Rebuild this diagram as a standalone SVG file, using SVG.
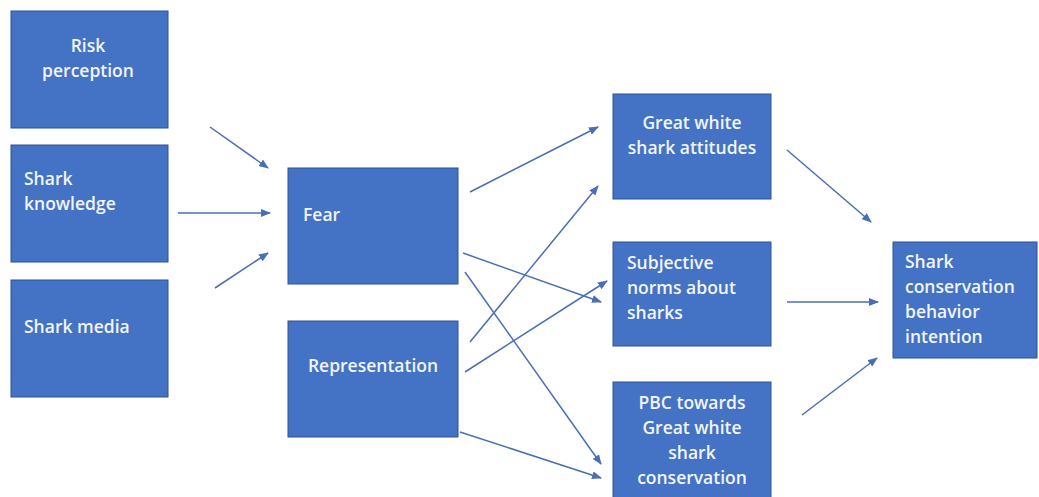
<svg xmlns="http://www.w3.org/2000/svg" width="1039" height="497" viewBox="0 0 1039 497">
<defs>
<marker id="ah" markerWidth="10" markerHeight="8" refX="9" refY="4" orient="auto" markerUnits="userSpaceOnUse">
<path d="M0,0 L10,4 L0,8 Z" fill="#4A6DB8"/>
</marker>
<style>
.box{fill:#4472C4;stroke:#2F528F;stroke-width:1}
.t{font-family:"Open Sans","Liberation Sans",sans-serif;font-size:17.5px;font-weight:600;fill:#F2F5FB}
.c{text-anchor:middle}
.e{stroke:#4A6DB8;stroke-width:1.5;fill:none;marker-end:url(#ah)}
</style>
</defs>
<rect width="1039" height="497" fill="#FFFFFF"/>
<g id="risk"><rect class="box" x="11" y="11" width="157" height="117"/><text class="t c" x="88" y="52">Risk</text><text class="t c" x="88" y="77">perception</text></g>
<g id="knowledge"><rect class="box" x="11" y="145" width="157" height="117"/><text class="t" x="24" y="185">Shark</text><text class="t" x="24" y="210">knowledge</text></g>
<g id="media"><rect class="box" x="11" y="280" width="157" height="117"/><text class="t" x="24" y="333">Shark media</text></g>
<g id="fear"><rect class="box" x="288" y="168" width="170" height="116"/><text class="t" x="303" y="221">Fear</text></g>
<g id="representation"><rect class="box" x="288" y="321" width="170" height="116"/><text class="t c" x="373" y="372">Representation</text></g>
<g id="attitudes"><rect class="box" x="613" y="94" width="158" height="105"/><text class="t c" x="692" y="129">Great white</text><text class="t c" x="692" y="154">shark attitudes</text></g>
<g id="norms"><rect class="box" x="613" y="242" width="158" height="104"/><text class="t" x="627" y="269">Subjective</text><text class="t" x="627" y="294">norms about</text><text class="t" x="627" y="319">sharks</text></g>
<g id="pbc"><rect class="box" x="613" y="382" width="158" height="120"/><text class="t c" x="692" y="409">PBC towards</text><text class="t c" x="692" y="434">Great white</text><text class="t c" x="692" y="459">shark</text><text class="t c" x="692" y="484">conservation</text></g>
<g id="intention"><rect class="box" x="893" y="242" width="144" height="116"/><text class="t" x="905" y="268">Shark</text><text class="t" x="905" y="293">conservation</text><text class="t" x="905" y="318">behavior</text><text class="t" x="905" y="343">intention</text></g>
<g id="connectors">
<line class="e" x1="210" y1="127" x2="268" y2="168"/>
<line class="e" x1="178" y1="213" x2="270" y2="213"/>
<line class="e" x1="215" y1="288" x2="268" y2="253"/>
<line class="e" x1="470" y1="192" x2="598" y2="127"/>
<line class="e" x1="470" y1="342" x2="598" y2="186"/>
<line class="e" x1="463" y1="253" x2="601" y2="302"/>
<line class="e" x1="465" y1="372" x2="607" y2="281"/>
<line class="e" x1="465" y1="272" x2="601" y2="464"/>
<line class="e" x1="460" y1="432" x2="601" y2="478"/>
<line class="e" x1="787" y1="150" x2="871" y2="222"/>
<line class="e" x1="787" y1="302" x2="878" y2="302"/>
<line class="e" x1="802" y1="415" x2="877" y2="358"/>
</g>
</svg>
